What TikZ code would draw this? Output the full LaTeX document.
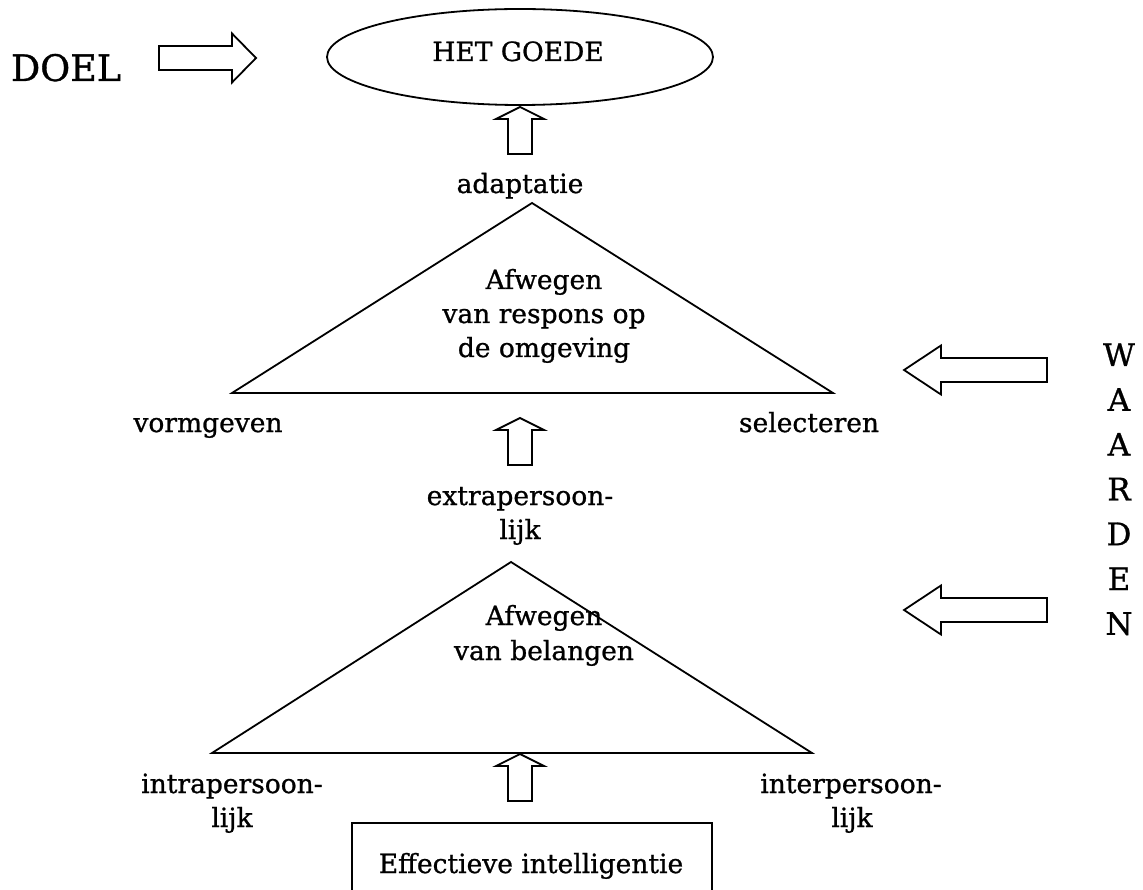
\documentclass[tikz,border=0pt]{standalone}
\usepackage{fontspec}
\setmainfont{DejaVu Serif}[FakeBold=0.9]
\usetikzlibrary{shapes.geometric}
\tikzset{
  ln/.style={line width=1.8pt, line join=miter},
  txt/.style={inner sep=0pt, anchor=base, font=\fontsize{26.5}{31}\selectfont},
  big/.style={inner sep=0pt, anchor=base, font=\fontsize{36.5}{42}\selectfont},
  vert/.style={inner sep=0pt, anchor=base, font=\fontsize{31}{36}\selectfont},
  uparr/.pic={\draw[ln] (-12,47) -- (-12,12) -- (-24,12) -- (0,0) -- (24,12) -- (12,12) -- (12,47) -- cycle;},
  leftarr/.pic={\draw[ln] (0,0) -- (37,-24.5) -- (37,-12) -- (143,-12) -- (143,12) -- (37,12) -- (37,24.5) -- cycle;},
  rightarr/.pic={\draw[ln] (0,0) -- (-24,-24.5) -- (-24,-12) -- (-97,-12) -- (-97,12) -- (-24,12) -- (-24,24.5) -- cycle;}
}
\begin{document}
\begin{tikzpicture}[x=1pt,y=-1pt]
\useasboundingbox (0,0) rectangle (1143,890);
% top
\node[ln, draw, ellipse, minimum width=386, minimum height=96, inner sep=0pt] (goal) at (520,57) {};
\node[txt] (goedetxt) at (518,61) {HET GOEDE};
\node[big] (doel) at (66,81) {DOEL};
\pic at (256,58) {rightarr};
\pic at (520,107) {uparr};
\node[txt] (adapt) at (520,193) {adaptatie};
% upper triangle
\coordinate (t1a) at (532,203);
\coordinate (t1l) at (232,393);
\coordinate (t1r) at (833,393);
\draw[ln] (t1a) -- (t1l) -- (t1r) -- cycle;
\node[txt] (u1) at (544,289) {Afwegen};
\node[txt] (u2) at (544,323) {van respons op};
\node[txt] (u3) at (544,357) {de omgeving};
\node[txt] (vorm) at (208,432) {vormgeven};
\node[txt] (sel) at (809,432) {selecteren};
\pic at (520,418) {uparr};
\node[txt] (ex1) at (520,505) {extrapersoon-};
\node[txt] (ex2) at (520,539) {lijk};
% lower triangle
\coordinate (t2a) at (511,562);
\coordinate (t2l) at (212,753);
\coordinate (t2r) at (812,753);
\draw[ln] (t2a) -- (t2l) -- (t2r) -- cycle;
\node[txt] (b1) at (544,625) {Afwegen};
\node[txt] (b2) at (544,660) {van belangen};
\node[txt] (in1) at (232,793) {intrapersoon-};
\node[txt] (in2) at (232,827) {lijk};
\node[txt] (it1) at (851,793) {interpersoon-};
\node[txt] (it2) at (852,827) {lijk};
\pic at (520,754) {uparr};
% box
\draw[ln] (352,892) -- (352,823) -- (712,823) -- (712,892);
\node[txt] (eff) at (531,873) {Effectieve intelligentie};
% right
\pic at (904,370) {leftarr};
\pic at (904,610) {leftarr};
\foreach \l [count=\i from 0] in {W,A,A,R,D,E,N}{
  \node[vert] (w\i) at (1119,{366+44.8*\i}) {\l};
}
\end{tikzpicture}
\end{document}
